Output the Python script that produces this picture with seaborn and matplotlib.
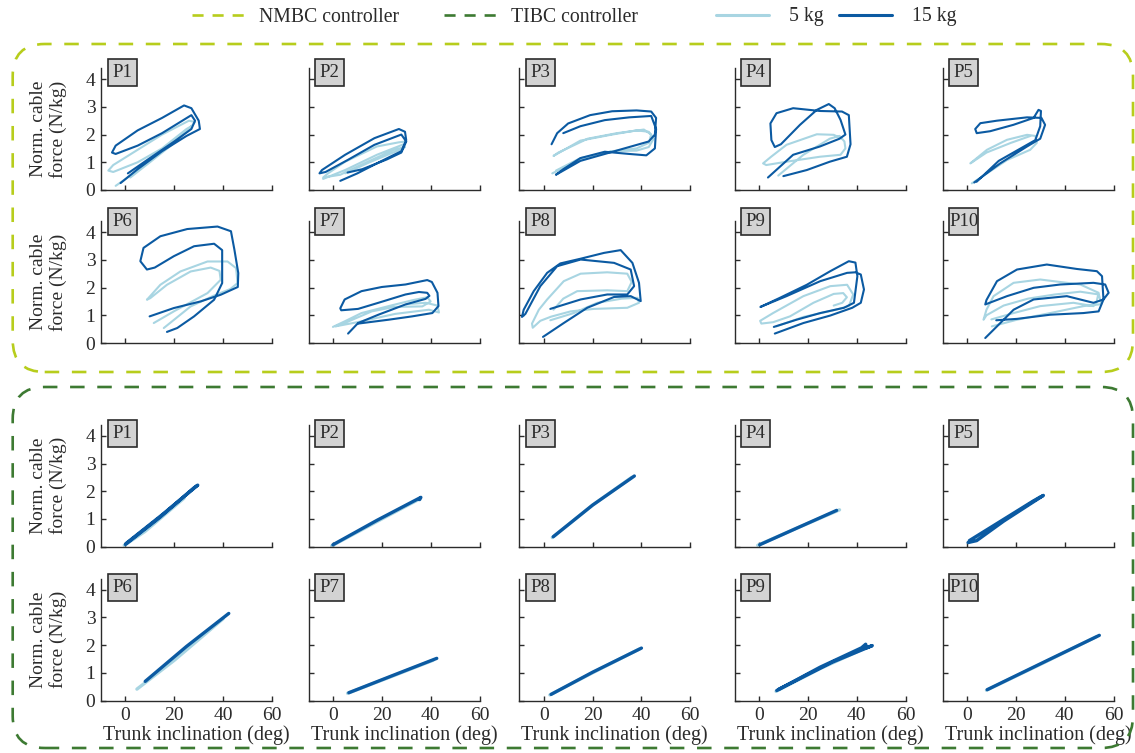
import numpy as np
import pandas as pd
import seaborn as sns
import matplotlib.pyplot as plt
from matplotlib.lines import Line2D
from matplotlib.patches import FancyBboxPatch, Rectangle

# colours
LIME = "#b7cd1c"
DKGREEN = "#3d7a32"
LIGHTBLUE = "#a8d5e2"
DARKBLUE = "#0b5aa2"
INK = "#2b2b2b"

participants = ["P1", "P2", "P3", "P4", "P5", "P6", "P7", "P8", "P9", "P10"]
loads = ["5 kg", "15 kg"]
x_ticks = [0, 20, 40, 60]
y_ticks = [0, 1, 2, 3, 4]

# NMBC controller: (trunk inclination [deg], norm. cable force [N/kg])
nmbc_p1_5kg = [(-4, 0.15), (5, 0.7), (15, 1.4), (25, 2.1), (28.5, 2.45), (26, 2.5), (15, 2.0), (5, 1.45), (-5, 0.9),
               (-7, 0.7), (-5, 0.65), (5, 1.0), (15, 1.5), (25, 2.2), (27, 2.3), (20, 1.7), (10, 1.0), (2, 0.45)]
nmbc_p1_15kg = [(-2, 0.25), (5, 0.75), (15, 1.4), (25, 1.95), (30.5, 2.2), (30, 2.5), (27, 2.95), (24, 3.05),
                (15, 2.6), (5, 2.15), (-4, 1.6), (-5.5, 1.35), (-4, 1.3), (5, 1.6), (15, 2.05), (27, 2.7),
                (28.5, 2.5), (27, 2.2), (20, 1.75), (10, 1.15), (1, 0.6)]
nmbc_p2_5kg = [(-4, 0.4), (5, 0.72), (18, 1.27), (29, 1.65), (30, 1.75), (27, 1.72), (18, 1.57), (5, 1.02),
               (-2, 0.6), (-4, 0.45), (3, 0.55), (15, 1.05), (25, 1.45), (29.5, 1.55), (26, 1.4), (15, 1.0), (5, 0.6)]
nmbc_p2_15kg = [(3, 0.33), (10, 0.6), (20, 1.05), (28, 1.4), (30, 1.8), (29.5, 2.1), (27, 2.2), (17, 1.87),
                (5, 1.27), (-4.5, 0.72), (-5.5, 0.6), (-3, 0.65), (6, 1.08), (17, 1.63), (28, 2.0), (30, 1.75),
                (28, 1.35), (22, 1.1), (12, 0.75), (6, 0.63)]
nmbc_p3_5kg = [(3.5, 0.6), (15, 1.1), (28, 1.4), (38, 1.42), (43, 1.55), (45, 1.85), (43, 2.1), (38, 2.15),
               (28, 2.0), (15, 1.78), (4, 1.23), (6, 1.35), (18, 1.85), (30, 2.05), (41, 2.18), (44, 2.0),
               (43, 1.7), (38, 1.5), (28, 1.4), (15, 1.15), (5, 0.7)]
nmbc_p3_15kg = [(3.2, 1.65), (5.5, 2.05), (10, 2.4), (19, 2.7), (28, 2.84), (38, 2.87), (44, 2.83), (46, 2.6),
                (45.5, 2.0), (43, 1.75), (35, 1.55), (25, 1.3), (15, 1.05), (6, 0.6), (5, 0.55), (8, 0.75),
                (15, 1.15), (25, 1.38), (35, 1.3), (42, 1.25), (45.5, 1.5), (46, 2.2), (44, 2.67), (35, 2.62),
                (25, 2.52), (15, 2.3), (8, 2.05)]
nmbc_p4_5kg = [(7.9, 0.52), (18.2, 1.27), (29, 1.85), (33, 1.95), (35, 1.75), (35.4, 1.5), (33.4, 1.27),
               (25, 1.2), (11.3, 1.02), (3, 0.9), (1.7, 0.96), (5, 1.2), (11.3, 1.63), (23.7, 2.01),
               (30.6, 1.99), (34, 1.85)]
nmbc_p4_15kg = [(10, 0.5), (19.6, 0.72), (29, 1.02), (36, 1.2), (37.5, 1.65), (36.8, 2.7), (34, 2.83),
                (25, 2.85), (14, 2.95), (7.2, 2.77), (4.7, 2.4), (5.1, 1.8), (6.5, 1.55), (9, 1.65),
                (16.8, 2.35), (23.7, 2.89), (28.6, 3.1), (31, 2.95), (33.4, 2.53), (35.4, 2.0), (33, 1.85),
                (25, 1.57), (14, 1.27), (3.7, 0.45)]
nmbc_p5_5kg = [(2, 0.24), (8.2, 0.6), (16.4, 1.08), (25.9, 1.45), (28.6, 1.7), (28, 1.95), (24.6, 1.99),
               (16.4, 1.81), (8.2, 1.45), (1.4, 0.96), (8, 1.35), (18, 1.7), (26, 1.95)]
nmbc_p5_15kg = [(3, 0.27), (13.6, 0.96), (24.6, 1.57), (30, 1.85), (32, 2.35), (30.5, 2.6), (24.6, 2.62),
                (12.3, 2.5), (5.5, 2.41), (3.4, 2.2), (4, 2.05), (9.5, 2.12), (19, 2.35), (27.3, 2.6),
                (29.3, 2.89), (30.3, 2.85), (30, 2.3), (28, 1.8), (22, 1.5), (13, 1.05), (4, 0.3)]
nmbc_p6_5kg = [(11.6, 0.72), (20, 1.15), (33.6, 1.8), (39, 2.28), (38.5, 2.6), (34.9, 2.72), (26.7, 2.58),
               (17, 2.1), (10.2, 1.62), (8.8, 1.56), (14.3, 2.1), (22.5, 2.58), (33.6, 2.94), (41.8, 2.94),
               (45.3, 2.7), (45.9, 2.16), (43, 1.95), (36, 1.7), (26.7, 1.32), (15.7, 0.54)]
nmbc_p6_15kg = [(9.9, 0.96), (19.8, 1.26), (30.8, 1.5), (39, 1.74), (46, 2.02), (46.2, 2.52), (44.6, 3.37),
                (43.2, 4.03), (37.7, 4.2), (25.3, 4.11), (14.3, 3.85), (7.4, 3.43), (6.1, 2.95), (8.8, 2.65),
                (12, 2.72), (19.8, 3.13), (28.1, 3.49), (36.3, 3.58), (39.6, 3.35), (39.6, 2.16), (36.3, 1.56),
                (28.1, 0.96), (21.2, 0.54), (17, 0.4)]
nmbc_p7_5kg = [(0, 0.58), (4.8, 0.78), (11.7, 1.08), (22.8, 1.33), (32.4, 1.54), (38.6, 1.65), (40, 1.5),
               (36.6, 1.32), (25, 1.3), (15.9, 1.14), (4.8, 0.72), (1, 0.6), (10, 0.75), (25.5, 1.05),
               (39.3, 1.2), (43.4, 1.1), (42.8, 1.35), (38, 1.45), (30, 1.4)]
nmbc_p7_15kg = [(6.2, 0.34), (10.3, 0.72), (18.6, 1.02), (29.7, 1.39), (37.9, 1.59), (39.5, 1.7), (38.6, 1.81),
                (35.2, 1.84), (29.7, 1.75), (18.6, 1.45), (10.3, 1.23), (3.4, 1.18), (3, 1.25), (4.8, 1.57),
                (11.7, 1.87), (20, 2.02), (29.7, 2.11), (38.6, 2.27), (40.5, 2.2), (42.8, 1.81), (43.2, 1.33),
                (40.7, 1.08), (32.4, 0.96), (22.8, 0.84), (10.3, 0.7)]
nmbc_p8_5kg = [(2.7, 0.82), (12.3, 1.08), (21.9, 1.45), (32, 1.6), (38.4, 1.63), (39, 1.45), (34.2, 1.27),
               (20.5, 1.23), (11, 1.14), (3, 0.95), (-1.4, 0.8), (-4.5, 0.55), (-4.8, 0.7), (-2, 1.2),
               (1.4, 1.57), (8.2, 2.23), (15.1, 2.5), (26, 2.55), (34.2, 2.5), (36, 2.2), (34.2, 1.87),
               (26, 1.9), (13.7, 1.87), (8, 1.6), (4, 1.2)]
nmbc_p8_15kg = [(-0.3, 0.22), (8.2, 0.72), (17.8, 1.27), (28.8, 1.66), (35.6, 1.69), (39.7, 1.51), (39, 2.17),
                (36.3, 2.89), (31.5, 3.35), (24.7, 3.25), (15.1, 3.04), (6.8, 2.87), (1.4, 2.53), (-4.1, 1.87),
                (-8.2, 1.2), (-8.9, 0.94), (-7.5, 1.05), (-1.4, 2.05), (5.5, 2.77), (15.1, 3.01), (28.8, 2.89),
                (35.6, 2.65), (37, 2.05), (34.2, 1.75), (26, 1.75), (15.1, 1.57), (2.7, 1.23)]
nmbc_p9_5kg = [(30.6, 1.35), (34.1, 1.45), (36, 1.65), (34.5, 1.8), (30.6, 1.77), (22.3, 1.45), (12.7, 0.96),
               (5.8, 0.75), (1, 0.7), (0.5, 0.8), (5.8, 1.08), (18.2, 1.69), (29.2, 2.05), (36.1, 2.1),
               (38.6, 1.75), (36.8, 1.33), (30.6, 1.18), (18.2, 0.94), (7.2, 0.6)]
nmbc_p9_15kg = [(6.5, 0.34), (18.2, 0.72), (29.2, 0.99), (38.2, 1.27), (41.7, 1.45), (43, 1.93), (41.7, 2.47),
                (39.5, 2.55), (36.1, 2.53), (25.1, 2.23), (11.3, 1.69), (0.6, 1.3), (8.6, 1.63), (19.6, 2.1),
                (29.2, 2.59), (36.8, 2.95), (39.5, 2.9), (40.3, 2.41), (38.9, 1.45), (34.8, 1.27), (25.1, 1.08),
                (15.4, 0.84), (6.1, 0.58)]
nmbc_p10_5kg = [(10.2, 0.6), (20.5, 0.84), (34.1, 1.08), (47.7, 1.33), (55, 1.4), (54, 1.75), (46.4, 1.85),
                (36, 1.75), (25, 1.6), (15, 1.35), (8, 1.0), (6.8, 0.84), (8, 1.2), (10.9, 1.69), (19.1, 2.17),
                (30, 2.29), (46.4, 2.11), (53.9, 1.81), (53, 1.45), (51.8, 1.33), (43.6, 1.45), (30, 1.33),
                (19.1, 1.08), (10, 0.85)]
nmbc_p10_15kg = [(7.5, 0.18), (12.3, 0.6), (19.1, 1.2), (27.3, 1.57), (40.9, 1.69), (51.8, 1.45), (55.9, 1.57),
                 (58, 1.81), (56.6, 2.11), (51.8, 2.17), (38.2, 2.11), (27.3, 1.99), (16.4, 1.69), (7.5, 1.39),
                 (8, 1.55), (12.3, 2.23), (20.5, 2.65), (32.7, 2.83), (45, 2.67), (53.2, 2.59), (55.3, 2.41),
                 (55.9, 1.57), (53.9, 1.14), (47.7, 1.08), (34.1, 1.02), (20.5, 0.87), (12, 0.82)]

# TIBC controller
tibc_p1_5kg = [(-0.5, 0.05), (8, 0.55), (24, 1.75)]
tibc_p1_15kg = [(0.3, 0.12), (15, 1.15), (29.6, 2.22), (28, 2.12), (14, 1.05), (0, 0.08)]
tibc_p2_5kg = [(-0.5, 0.03), (20, 1.0), (35, 1.7)]
tibc_p2_15kg = [(0, 0.07), (18, 0.95), (36, 1.78), (35.5, 1.7)]
tibc_p3_5kg = [(3.5, 0.33), (20, 1.5), (36, 2.5)]
tibc_p3_15kg = [(3.9, 0.36), (20, 1.5), (37.1, 2.55)]
tibc_p4_5kg = [(-0.5, 0.05), (15, 0.65), (33, 1.33)]
tibc_p4_15kg = [(0.3, 0.07), (15, 0.65), (31.8, 1.31)]
tibc_p5_5kg = [(0.5, 0.15), (15, 0.95), (30, 1.8)]
tibc_p5_15kg = [(0.5, 0.15), (4, 0.22), (15, 0.92), (31.3, 1.85), (27, 1.64), (12, 0.82), (1, 0.22)]
tibc_p6_5kg = [(4.7, 0.41), (20, 1.45), (40, 2.95)]
tibc_p6_15kg = [(8.1, 0.69), (25, 1.95), (42.3, 3.14)]
tibc_p7_5kg = [(6, 0.26), (25, 0.9), (41, 1.45)]
tibc_p7_15kg = [(6.5, 0.28), (25, 0.92), (42.5, 1.52)]
tibc_p8_5kg = [(2.5, 0.2), (20, 1.0), (39, 1.85)]
tibc_p8_15kg = [(3, 0.22), (20, 1.02), (40, 1.89)]
tibc_p9_5kg = [(7, 0.33), (25, 1.15), (45, 1.95)]
tibc_p9_15kg = [(7.3, 0.36), (25, 1.2), (42, 1.9), (43.7, 2.03), (44, 1.9), (46.4, 1.98), (30, 1.38), (8, 0.4)]
tibc_p10_5kg = [(8, 0.37), (30, 1.3), (53, 2.3)]
tibc_p10_15kg = [(8.3, 0.39), (30, 1.32), (54.2, 2.35)]

nmbc = [(nmbc_p1_5kg, nmbc_p1_15kg), (nmbc_p2_5kg, nmbc_p2_15kg), (nmbc_p3_5kg, nmbc_p3_15kg),
        (nmbc_p4_5kg, nmbc_p4_15kg), (nmbc_p5_5kg, nmbc_p5_15kg), (nmbc_p6_5kg, nmbc_p6_15kg),
        (nmbc_p7_5kg, nmbc_p7_15kg), (nmbc_p8_5kg, nmbc_p8_15kg), (nmbc_p9_5kg, nmbc_p9_15kg),
        (nmbc_p10_5kg, nmbc_p10_15kg)]
tibc = [(tibc_p1_5kg, tibc_p1_15kg), (tibc_p2_5kg, tibc_p2_15kg), (tibc_p3_5kg, tibc_p3_15kg),
        (tibc_p4_5kg, tibc_p4_15kg), (tibc_p5_5kg, tibc_p5_15kg), (tibc_p6_5kg, tibc_p6_15kg),
        (tibc_p7_5kg, tibc_p7_15kg), (tibc_p8_5kg, tibc_p8_15kg), (tibc_p9_5kg, tibc_p9_15kg),
        (tibc_p10_5kg, tibc_p10_15kg)]


def to_frame(pair):
    rows = []
    for load, pts in zip(loads, pair):
        for i, (x, y) in enumerate(pts):
            rows.append((load, i, x, y))
    return pd.DataFrame(rows, columns=["load", "i", "incl", "force"])


sns.set_style("ticks")
plt.rcParams["font.family"] = ["Liberation Serif", "DejaVu Serif"]
plt.rcParams["text.color"] = INK

W, H = 1135, 753
fig = plt.figure(figsize=(W / 100, H / 100), dpi=100)

col_left = [101, 308.5, 519.3, 734.5, 942.5]
row_base = [190, 343, 546.7, 700.5]
ax_w, ax_h = 171, 122
tag_y = [0.967, 1.0, 0.93, 0.93]  # vertical centre of the participant tag, per row
tag_w, tag_h = 29 / ax_w, 27 / ax_h

for block, data, lw in [(0, nmbc, 1.5), (1, tibc, 2.4)]:
    for k, name in enumerate(participants):
        row = block * 2 + k // 5
        col = k % 5
        ax = fig.add_axes([col_left[col] / W, 1 - row_base[row] / H, ax_w / W, ax_h / H])
        df = to_frame(data[k])
        sns.lineplot(data=df, x="incl", y="force", hue="load", hue_order=loads,
                     palette=[LIGHTBLUE, DARKBLUE], sort=False, estimator=None,
                     legend=False, lw=lw, solid_joinstyle="round", solid_capstyle="round", ax=ax)
        ax.set_xlim(-10, 60)
        ax.set_ylim(0, 4.4)
        ax.set_xticks(x_ticks)
        ax.set_yticks(y_ticks)
        sns.despine(ax=ax)
        for s in ["left", "bottom"]:
            ax.spines[s].set_color(INK)
            ax.spines[s].set_linewidth(1.0)
        ax.tick_params(direction="in", length=3.5, width=1, colors=INK, labelsize=14,
                       labelbottom=(row == 3), labelleft=(col == 0))
        ax.tick_params(axis="x", pad=5)
        ax.tick_params(axis="y", pad=4)
        ax.set_xlabel("")
        ax.set_ylabel("")
        if col == 0:
            ax.set_ylabel("Norm. cable\nforce (N/kg)", fontsize=14, color=INK, linespacing=1.15)
            ax.yaxis.set_label_coords(-0.2, 0.5)
        if row == 3:
            ax.set_xlabel("Trunk inclination (deg)", fontsize=14.5, color=INK)
            ax.xaxis.set_label_coords(0.558, -0.2)
        # participant tag
        cx = (6.7 + 14.5) / ax_w
        ax.add_patch(Rectangle((cx - tag_w / 2, tag_y[row] - tag_h / 2), tag_w, tag_h,
                               transform=ax.transAxes, fc="#d3d3d3", ec=INK, lw=1.2,
                               clip_on=False, zorder=5))
        ax.text(cx, tag_y[row], name, transform=ax.transAxes, ha="center", va="center",
                fontsize=13.5, color=INK, zorder=6, clip_on=False)

# dashed rounded frames around the two controller blocks
for top_px, bot_px, colr in [(44, 372, LIME), (387, 748, DKGREEN)]:
    frame = FancyBboxPatch((0.127, (H - bot_px) / 100), 11.33 - 0.127, (bot_px - top_px) / 100,
                           boxstyle="round,pad=0,rounding_size=0.32", transform=fig.dpi_scale_trans,
                           fill=False, ec=colr, lw=1.9, ls=(0, (5.5, 4.8)))
    fig.add_artist(frame)

# legends
ctrl_handles = [Line2D([], [], color=LIME, lw=1.9, ls=(0, (4.2, 3.4))),
                Line2D([], [], color=DKGREEN, lw=1.9, ls=(0, (4.2, 3.4)))]
leg1 = fig.legend(ctrl_handles, ["NMBC controller", "TIBC controller"], loc="center",
                  bbox_to_anchor=(415 / W, 1 - 17 / H), ncol=2, frameon=False, fontsize=14.2,
                  handlelength=2.7, handletextpad=0.7, columnspacing=2.3)
load_handles = [Line2D([], [], color=LIGHTBLUE, lw=2.2), Line2D([], [], color=DARKBLUE, lw=2.2)]
leg2 = fig.legend(load_handles, loads, loc="center", bbox_to_anchor=(836 / W, 1 - 17 / H), ncol=2,
                  frameon=False, fontsize=14.2, handlelength=2.7, handletextpad=1.0, columnspacing=0.8)

fig.savefig("out.png", dpi=100)
